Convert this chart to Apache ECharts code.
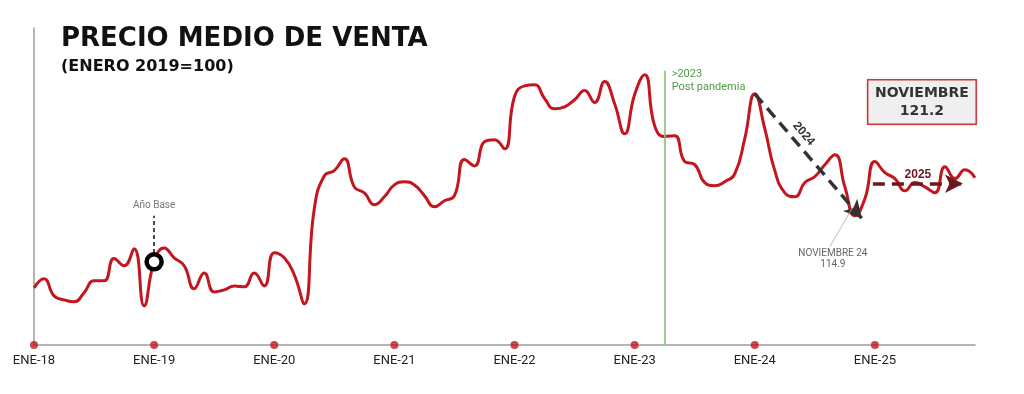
<!DOCTYPE html>
<html>
<head>
<meta charset="utf-8">
<script src="https://cdn.jsdelivr.net/npm/echarts@6/dist/echarts.min.js"></script>
<style>
  html, body { margin: 0; padding: 0; background: #ffffff; }
  #chart { width: 1024px; height: 394px; }
</style>
</head>
<body>
<div id="chart"></div>
<script>
// Monthly index, Jan 2018 .. Nov 2025 (index 0 = ENE-18)
const values = [
  93.4, 95.7, 91.4, 90.4, 89.9, 92.2, 95.2, 95.2, 100.8, 99.0, 103.3, 88.9,
  100.0, 103.5, 101.0, 99.0, 93.2, 97.2, 92.4, 92.9, 93.9, 93.7, 97.2, 93.9,
  102.3, 101.0, 96.7, 89.4, 113.4, 121.7, 123.0, 126.0, 118.9, 117.4, 114.4, 116.4,
  119.4, 120.2, 119.4, 116.7, 113.9, 115.4, 116.7, 125.8, 124.2, 130.3, 130.8, 128.5,
  141.7, 144.4, 144.7, 141.2, 138.6, 139.1, 140.9, 143.2, 140.2, 145.5, 139.9, 132.3,
  142.2, 147.2, 134.3, 131.6, 131.8, 125.3, 124.5, 120.0, 119.2, 120.2, 122.2, 131.1,
  142.4, 133.6, 123.0, 117.4, 116.4, 120.0, 121.5, 124.5, 127.0, 118.9, 111.6, 115.9,
  125.3, 122.5, 121.0, 117.9, 120.0, 118.9, 117.4, 124.0, 121.0, 123.2, 121.2
];
const tickLabels = ['ENE-18', 'ENE-19', 'ENE-20', 'ENE-21', 'ENE-22', 'ENE-23', 'ENE-24', 'ENE-25'];
const januaryIdx = [0, 12, 24, 36, 48, 60, 72, 84];
const yMin = 79, yMax = 159;

const RED = '#c3161e';
const NARROW = '"Liberation Sans Narrow", Roboto, sans-serif';
const chart = echarts.init(document.getElementById('chart'), null, { renderer: 'canvas' });

const option = {
  animation: false,
  backgroundColor: '#ffffff',
  grid: { left: 34, right: 49, top: 28, bottom: 49, containLabel: false },
  graphic: [
    { type: 'text', left: 61, top: 26, style: { text: 'PRECIO MEDIO DE VENTA', fill: '#111', font: 'bold 26px "DejaVu Sans", sans-serif' } },
    { type: 'text', left: 61, top: 59, style: { text: '(ENERO 2019=100)', fill: '#111', font: 'bold 16px "DejaVu Sans", sans-serif' } }
  ],
  xAxis: {
    type: 'value', min: 0, max: 94, interval: 12,
    axisLine: { show: true, onZero: false, lineStyle: { color: '#9d9d9d', width: 1.5 } },
    axisTick: { show: false },
    splitLine: { show: false },
    axisLabel: {
      margin: 9, fontSize: 13, color: '#222',
      fontFamily: 'Roboto, "Liberation Sans", sans-serif',
      formatter: v => (v % 12 === 0 ? tickLabels[v / 12] : '')
    }
  },
  yAxis: {
    type: 'value', min: yMin, max: yMax,
    axisLine: { show: true, lineStyle: { color: '#9d9d9d', width: 1.5 } },
    axisTick: { show: false }, axisLabel: { show: false }, splitLine: { show: false }
  },
  series: [
    {
      type: 'line',
      data: values.map((v, i) => [i, v]),
      smooth: 0.5,
      showSymbol: false,
      lineStyle: { color: RED, width: 3 },
      itemStyle: { color: RED },
      z: 3,
      markLine: {
        silent: true,
        symbol: ['none', 'none'],
        animation: false,
        data: [
          // Post-pandemia vertical
          [
            { coord: [63, yMin], lineStyle: { color: '#86c276', width: 1.6, type: 'solid' }, label: { show: false } },
            { coord: [63, 148.2] }
          ],
          // Año base dashed
          [
            { coord: [12, 102.2], lineStyle: { color: '#111', width: 1.5, type: [4, 3] },
              label: { show: true, position: 'end', distance: 5, formatter: 'Año Base', color: '#777', fontSize: 10, fontFamily: NARROW } },
            { coord: [12, 111.6] }
          ],
          // 2024 arrow
          [
            { coord: [72, 142.4], symbol: 'none', lineStyle: { color: '#333', width: 3.5, type: [12, 7] }, label: { show: false } },
            { coord: [82.7, 110.9], symbol: 'arrow', symbolSize: [14, 18] }
          ],
          // 2024 label carrier (transparent), label sits near 38% of the arrow
          [
            { coord: [72, 142.4], symbol: 'none', lineStyle: { color: 'rgba(0,0,0,0)', width: 0.1, type: 'solid' },
              label: { show: true, position: 'insideMiddleTop', distance: 5, formatter: '2024', color: '#333', fontSize: 12, fontWeight: 'bold' } },
            { coord: [80.1, 118.6], symbol: 'none' }
          ],
          // 2025 arrow
          [
            { coord: [83.8, 119.7], symbol: 'none', lineStyle: { color: '#6d1820', width: 3.5, type: [12, 7] },
              label: { show: true, position: 'insideMiddleTop', distance: 3, formatter: '2025', color: '#6d1820', fontSize: 12, fontWeight: 'bold' } },
            { coord: [92.8, 119.7], symbol: 'arrow', symbolSize: [14, 18] }
          ],
          // leader to Nov 24
          [
            { coord: [81.7, 113.4], lineStyle: { color: '#aaa', width: 0.8, type: 'solid' }, label: { show: false } },
            { coord: [79.5, 103.8] }
          ],
          // leader from box
          [
            { coord: [90.8, 134.3], lineStyle: { color: '#999', width: 1, type: [1, 1.5] }, label: { show: false } },
            { coord: [94.2, 122.2] }
          ]
        ]
      },
      markPoint: {
        silent: true,
        animation: false,
        data: [
          { coord: [12, 100], symbol: 'circle', symbolSize: 15, itemStyle: { color: '#fff', borderColor: '#000', borderWidth: 4.5 }, label: { show: false } },
          { coord: [63, 149.0], symbol: 'circle', symbolSize: 0, itemStyle: { color: 'transparent' },
            label: { show: true, position: [7, 0], align: 'left', verticalAlign: 'top', formatter: '>2023\nPost pandemia', color: '#4f9a45', fontSize: 11, lineHeight: 13, fontFamily: NARROW } },
          { coord: [79.8, 100.6], symbol: 'circle', symbolSize: 0, itemStyle: { color: 'transparent' },
            label: { show: true, position: 'inside', formatter: 'NOVIEMBRE 24\n114.9', color: '#666', fontSize: 10, lineHeight: 11, fontFamily: NARROW } },
          { coord: [88.7, 140.3], symbol: 'circle', symbolSize: 0, itemStyle: { color: 'transparent' },
            label: { show: true, position: 'inside', formatter: 'NOVIEMBRE\n121.2', color: '#333', fontSize: 14, fontWeight: 'bold', lineHeight: 18,
              fontFamily: '"DejaVu Sans", sans-serif',
              backgroundColor: '#efefef', borderColor: '#d8353c', borderWidth: 1.5, padding: [4, 6, 3, 6], width: 95, align: 'center',
              shadowColor: 'rgba(0,0,0,0.15)', shadowBlur: 3 } }
        ]
      }
    },
    {
      type: 'scatter',
      data: januaryIdx.map(i => [i, yMin]),
      symbol: 'circle', symbolSize: 8,
      itemStyle: { color: RED },
      clip: false, silent: true, z: 5
    }
  ]
};
chart.setOption(option);
</script>
</body>
</html>
